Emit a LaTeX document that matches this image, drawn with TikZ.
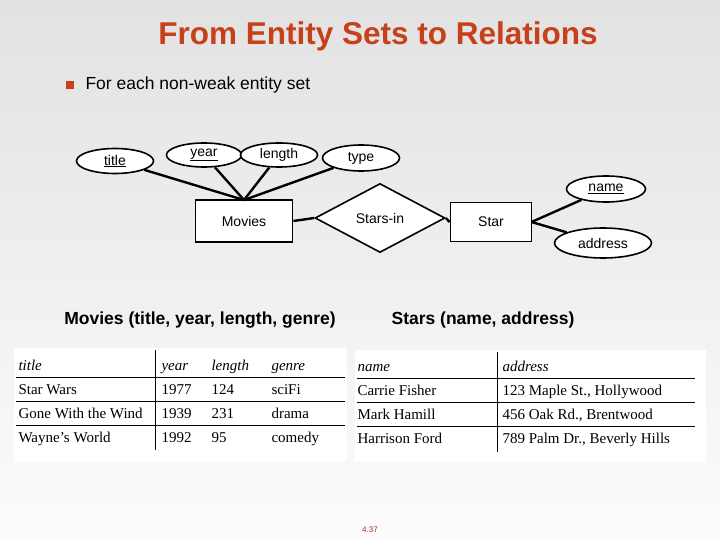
\documentclass[tikz,border=0pt]{standalone}
\usepackage{fontspec}
\setmainfont{Liberation Sans}
\newfontfamily\tabfont{Liberation Serif}
\usetikzlibrary{shapes.geometric}
\definecolor{ttl}{HTML}{C8401A}
\definecolor{bg}{HTML}{E2E2E2}
\begin{document}
\begin{tikzpicture}[x=1pt,y=-1pt,
  attr/.style={draw,ellipse,line width=1.6pt,fill=white,inner sep=0pt,font=\fontsize{14}{16}\selectfont},
  ent/.style={draw,rectangle,line width=1.8pt,fill=white,inner sep=0pt,font=\fontsize{14}{16}\selectfont},
  rel/.style={draw,diamond,aspect=1.9,line width=1.6pt,fill=white,inner sep=0pt,font=\fontsize{14}{16}\selectfont},
  link/.style={line width=2.4pt},
  tb/.style={anchor=base west,font=\tabfont\fontsize{15}{17}\selectfont},
  th/.style={anchor=base west,font=\tabfont\itshape\fontsize{15}{17}\selectfont},
  rule/.style={line width=0.8pt}]
\shade[top color=bg,bottom color=white!90!bg] (0,0) rectangle (720,540);
\useasboundingbox (0,0) rectangle (720,540);
% title
\node (ttl) [text=ttl,font=\bfseries\fontsize{31.5}{34}\selectfont] at (378,36) {From Entity Sets to Relations};
\node (bul) [fill=ttl,minimum size=8pt,inner sep=0pt] at (70,85) {};
\node (b1) [anchor=west,font=\fontsize{17.5}{20}\selectfont] at (82,85) {For each non-weak entity set};
% ER diagram
\node (mov) [ent,minimum width=97pt,minimum height=42pt] at (244,221) {Movies};
\node (sin) [rel,minimum width=130pt,minimum height=69pt] at (380,218) {Stars-in};
\node (star)[ent,minimum width=81pt,minimum height=39pt] at (491,222) {Star};
\coordinate (mt) at (244,200);
\coordinate (sr) at (531.5,222);
\node (ti) [attr,minimum width=77pt,minimum height=25pt] at (115,161) {\underline{title}};
\node (ye) [attr,minimum width=75pt,minimum height=24pt] at (204,155) {\underline{year}};
\node (le) [attr,minimum width=77pt,minimum height=24pt] at (279,155) {length};
\node (ty) [attr,minimum width=77pt,minimum height=26pt] at (361,158) {type};
\node (na) [attr,minimum width=79pt,minimum height=26pt] at (606,189) {\underline{name}};
\node (ad) [attr,minimum width=97pt,minimum height=30pt] at (603,243) {address};
\draw[link] (mt) -- (ti); \draw[link] (mt) -- (ye);
\draw[link] (mt) -- (le); \draw[link] (mt) -- (ty);
\draw[link] (sr) -- (na); \draw[link] (sr) -- (ad);
\draw[link] (mov.east) -- (sin.west);
\draw[link] (sin.east) -- (star.west);
% schemas
\node (s1) [font=\bfseries\fontsize{17.5}{20}\selectfont] at (200,320) {Movies (title, year, length, genre)};
\node (s2) [font=\bfseries\fontsize{17.5}{20}\selectfont] at (483,320) {Stars (name, address)};
% left table
\fill[white] (14,348) rectangle (347,462);
\draw[rule] (155,350) -- (155,450);
\draw[rule] (16,377) -- (345,377);
\draw[rule] (16,401) -- (345,401);
\draw[rule] (16,425) -- (345,425);
\node[th] at (15,370) {title}; \node[th] at (158,370) {year}; \node[th] at (208,370) {length}; \node[th] at (268,370) {genre};
\node[tb] at (15,394) {Star Wars}; \node[tb] at (158,394) {1977}; \node[tb] at (208,394) {124}; \node[tb] at (268,394) {sciFi};
\node[tb] at (15,418) {Gone With the Wind}; \node[tb] at (158,418) {1939}; \node[tb] at (208,418) {231}; \node[tb] at (268,418) {drama};
\node[tb] at (15,442) {Wayne’s World}; \node[tb] at (158,442) {1992}; \node[tb] at (208,442) {95}; \node[tb] at (268,442) {comedy};
% right table
\fill[white] (355,350) rectangle (706,462);
\draw[rule] (497,352) -- (497,452);
\draw[rule] (357,378) -- (695,378);
\draw[rule] (357,402) -- (695,402);
\draw[rule] (357,426) -- (695,426);
\node[th] at (354,371) {name}; \node[th] at (499,371) {address};
\node[tb] at (354,395) {Carrie Fisher}; \node[tb] at (499,395) {123 Maple St., Hollywood};
\node[tb] at (354,419) {Mark Hamill}; \node[tb] at (499,419) {456 Oak Rd., Brentwood};
\node[tb] at (354,443) {Harrison Ford}; \node[tb] at (499,443) {789 Palm Dr., Beverly Hills};
\node (pg) [text=ttl!80!black,font=\fontsize{8}{9}\selectfont] at (370,530) {4.37};
\end{tikzpicture}
\end{document}
